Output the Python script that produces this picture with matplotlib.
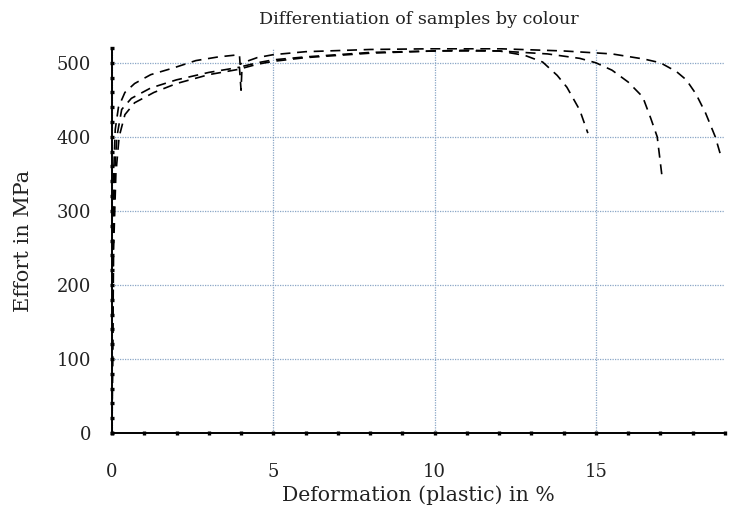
import matplotlib
matplotlib.use("Agg")
import matplotlib.pyplot as plt
from matplotlib.ticker import MultipleLocator

# three samples, strain (plastic, %) vs stress (MPa)
strain_a = [0, 0.02, 0.05, 0.1, 0.2, 0.4, 0.7, 1.2, 1.9, 2.6, 3.3, 3.95, 3.97, 4.05, 4.5, 5,
            6, 8, 10, 12, 14, 15.5, 16.5, 17, 17.5, 17.8, 18.1, 18.4, 18.7, 18.9]
stress_a = [0, 250, 350, 410, 440, 460, 472, 484, 493, 503, 508, 511, 498, 500, 507, 511,
            515, 518, 519, 519, 516, 512, 505, 500, 488, 477, 458, 432, 400, 370]

strain_b = [0, 0.03, 0.08, 0.15, 0.3, 0.6, 1.2, 2, 3, 3.95, 4.0, 4.03, 4.5, 5,
            6, 8, 10, 12, 13.5, 14.5, 15, 15.5, 16, 16.45, 16.7, 16.9, 17.05]
stress_b = [0, 250, 350, 400, 437, 452, 466, 477, 487, 494, 463, 495, 500, 504,
            508, 514, 516, 516, 512, 506, 500, 490, 474, 454, 425, 400, 346]

strain_c = [0, 0.05, 0.12, 0.22, 0.4, 0.7, 1.3, 2, 3, 3.9, 4.5, 5,
            6, 8, 10, 11, 12, 12.8, 13.35, 13.8, 14.1, 14.5, 14.75]
stress_c = [0, 250, 350, 400, 430, 446, 460, 472, 484, 491, 498, 502,
            507, 513, 516, 517, 516, 510, 501, 483, 467, 436, 405]

font = "DejaVu Serif"
txt = "#222222"

plt.rcParams["font.family"] = font
plt.rcParams["xtick.major.pad"] = 20.5
plt.rcParams["ytick.major.pad"] = 14

fig = plt.figure(figsize=(7.34, 5.15), dpi=100)
ax = fig.add_axes([0.1526, 0.1592, 0.8351, 0.7476])

for sx, sy in [(strain_a, stress_a), (strain_b, stress_b), (strain_c, stress_c)]:
    ax.plot(sx, sy, color="black", lw=1.2, linestyle=(0, (6, 4)), zorder=3)

ax.set_xlim(0, 19)
ax.set_ylim(0, 520)
ax.xaxis.set_major_locator(MultipleLocator(5))
ax.xaxis.set_minor_locator(MultipleLocator(1))
ax.yaxis.set_major_locator(MultipleLocator(100))
ax.yaxis.set_minor_locator(MultipleLocator(20))

ax.grid(True, which="major", color="#8aa6c6", linestyle=(0, (1, 1)), lw=0.9)
ax.set_axisbelow(True)

for s in ["top", "right"]:
    ax.spines[s].set_visible(False)
for s in ["left", "bottom"]:
    ax.spines[s].set_linewidth(1.4)
    ax.spines[s].set_color("black")
    ax.spines[s].set_zorder(4)

ax.tick_params(which="both", direction="inout", length=2.4, width=2.4, color="black")
ax.tick_params(which="major", labelsize=13, labelcolor=txt)

ax.set_xlabel("Deformation (plastic) in %", fontsize=14.7, color=txt, labelpad=3)
ax.set_ylabel("Effort in MPa", fontsize=15, color=txt, labelpad=17)
ax.set_title("Differentiation of samples by colour", fontsize=12.6, color=txt, pad=17)

fig.savefig("out.png", dpi=100)
